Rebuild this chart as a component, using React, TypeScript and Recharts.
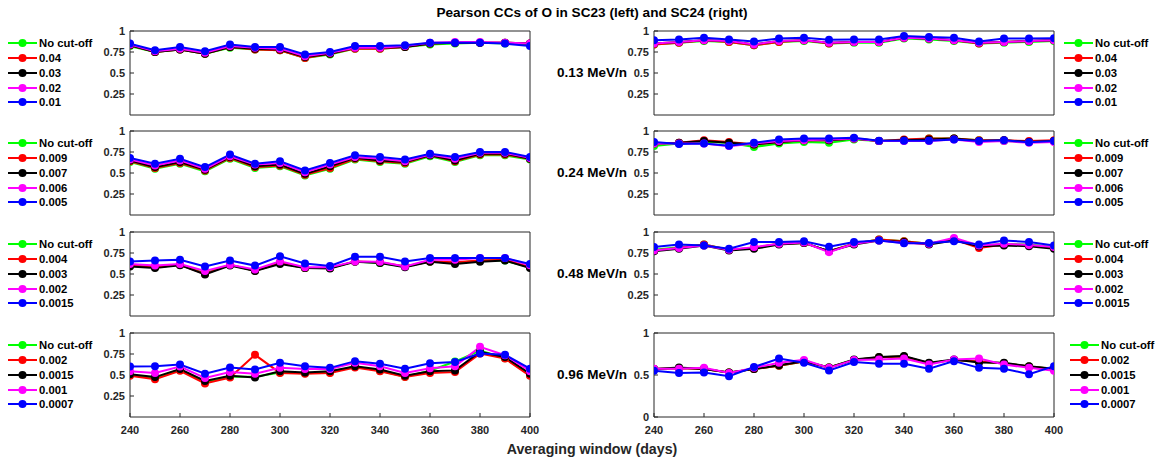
import React from 'react';
import { LineChart, Line, XAxis, YAxis, Legend } from 'recharts';

// ---------- categories / ticks ----------
const WINDOWS = [240, 250, 260, 270, 280, 290, 300, 310, 320, 330, 340, 350, 360, 370, 380, 390, 400];
const X_TICKS = [240, 260, 280, 300, 320, 340, 360, 380, 400];
const Y_TICKS = [0.25, 0.5, 0.75, 1];
const Y_TICKS_LAST_RIGHT = [0, 0.5, 1];

const TITLE = 'Pearson CCs of O in SC23 (left) and SC24 (right)';
const X_LABEL = 'Averaging window (days)';
const ENERGY_LABELS = ['0.13 MeV/n', '0.24 MeV/n', '0.48 MeV/n', '0.96 MeV/n'];

const CUTS_013 = ['No cut-off', '0.04', '0.03', '0.02', '0.01'];
const CUTS_024 = ['No cut-off', '0.009', '0.007', '0.006', '0.005'];
const CUTS_048 = ['No cut-off', '0.004', '0.003', '0.002', '0.0015'];
const CUTS_096 = ['No cut-off', '0.002', '0.0015', '0.001', '0.0007'];

const COLORS = ['#00ff00', '#ff0000', '#000000', '#ff00ff', '#0000ff'];

// ---------- 0.13 MeV/n ----------
const SC23_013_NONE = [0.82, 0.75, 0.78, 0.73, 0.80, 0.78, 0.77, 0.68, 0.72, 0.79, 0.79, 0.81, 0.84, 0.85, 0.86, 0.85, 0.84];
const SC23_013_C1 = [0.83, 0.75, 0.78, 0.73, 0.81, 0.78, 0.77, 0.68, 0.73, 0.79, 0.79, 0.81, 0.85, 0.86, 0.86, 0.86, 0.85];
const SC23_013_C2 = [0.83, 0.75, 0.78, 0.73, 0.81, 0.79, 0.78, 0.69, 0.73, 0.80, 0.80, 0.81, 0.85, 0.86, 0.86, 0.86, 0.85];
const SC23_013_C3 = [0.84, 0.76, 0.79, 0.74, 0.82, 0.80, 0.79, 0.70, 0.74, 0.80, 0.80, 0.82, 0.86, 0.87, 0.87, 0.86, 0.85];
const SC23_013_C4 = [0.85, 0.77, 0.81, 0.76, 0.84, 0.81, 0.81, 0.72, 0.75, 0.82, 0.82, 0.83, 0.86, 0.86, 0.86, 0.85, 0.82];

const SC24_013_NONE = [0.84, 0.86, 0.88, 0.87, 0.83, 0.87, 0.88, 0.85, 0.86, 0.86, 0.91, 0.90, 0.88, 0.85, 0.86, 0.87, 0.88];
const SC24_013_C1 = [0.84, 0.86, 0.89, 0.87, 0.83, 0.87, 0.89, 0.85, 0.87, 0.87, 0.92, 0.91, 0.89, 0.85, 0.87, 0.88, 0.89];
const SC24_013_C2 = [0.85, 0.87, 0.89, 0.88, 0.84, 0.88, 0.89, 0.86, 0.87, 0.87, 0.92, 0.91, 0.89, 0.86, 0.87, 0.88, 0.89];
const SC24_013_C3 = [0.85, 0.87, 0.89, 0.88, 0.84, 0.88, 0.89, 0.86, 0.87, 0.87, 0.92, 0.91, 0.89, 0.86, 0.87, 0.88, 0.89];
const SC24_013_C4 = [0.89, 0.90, 0.92, 0.90, 0.875, 0.91, 0.92, 0.895, 0.90, 0.90, 0.94, 0.93, 0.92, 0.875, 0.91, 0.91, 0.915];

// ---------- 0.24 MeV/n ----------
const SC23_024_NONE = [0.63, 0.55, 0.61, 0.52, 0.67, 0.56, 0.58, 0.47, 0.55, 0.66, 0.63, 0.61, 0.70, 0.63, 0.71, 0.71, 0.66];
const SC23_024_C1 = [0.64, 0.56, 0.62, 0.53, 0.68, 0.57, 0.59, 0.48, 0.56, 0.67, 0.64, 0.62, 0.71, 0.64, 0.72, 0.72, 0.67];
const SC23_024_C2 = [0.65, 0.57, 0.63, 0.54, 0.69, 0.58, 0.60, 0.49, 0.58, 0.68, 0.65, 0.63, 0.71, 0.65, 0.73, 0.73, 0.67];
const SC23_024_C3 = [0.66, 0.59, 0.65, 0.55, 0.70, 0.60, 0.62, 0.51, 0.60, 0.69, 0.67, 0.64, 0.72, 0.67, 0.74, 0.74, 0.68];
const SC23_024_C4 = [0.68, 0.61, 0.67, 0.57, 0.72, 0.61, 0.64, 0.53, 0.62, 0.71, 0.69, 0.66, 0.73, 0.69, 0.75, 0.75, 0.69];

const SC24_024_NONE = [0.82, 0.85, 0.87, 0.86, 0.81, 0.85, 0.87, 0.86, 0.90, 0.88, 0.89, 0.91, 0.91, 0.89, 0.88, 0.87, 0.88];
const SC24_024_C1 = [0.85, 0.86, 0.89, 0.87, 0.84, 0.87, 0.89, 0.89, 0.91, 0.88, 0.90, 0.91, 0.91, 0.89, 0.89, 0.88, 0.89];
const SC24_024_C2 = [0.85, 0.86, 0.88, 0.86, 0.84, 0.87, 0.89, 0.89, 0.91, 0.88, 0.89, 0.90, 0.91, 0.88, 0.89, 0.87, 0.88];
const SC24_024_C3 = [0.85, 0.85, 0.85, 0.82, 0.85, 0.88, 0.89, 0.90, 0.91, 0.88, 0.88, 0.88, 0.90, 0.87, 0.88, 0.86, 0.87];
const SC24_024_C4 = [0.87, 0.845, 0.85, 0.825, 0.86, 0.90, 0.91, 0.91, 0.92, 0.885, 0.885, 0.885, 0.90, 0.88, 0.89, 0.865, 0.88];

// ---------- 0.48 MeV/n ----------
const SC23_048_NONE = [0.60, 0.58, 0.61, 0.51, 0.61, 0.54, 0.63, 0.57, 0.57, 0.65, 0.63, 0.59, 0.65, 0.63, 0.66, 0.66, 0.58];
const SC23_048_C1 = [0.60, 0.58, 0.61, 0.50, 0.61, 0.54, 0.63, 0.57, 0.57, 0.65, 0.64, 0.59, 0.65, 0.64, 0.66, 0.67, 0.58];
const SC23_048_C2 = [0.59, 0.57, 0.605, 0.495, 0.60, 0.535, 0.62, 0.57, 0.565, 0.645, 0.63, 0.58, 0.645, 0.62, 0.645, 0.66, 0.57];
const SC23_048_C3 = [0.62, 0.60, 0.62, 0.535, 0.61, 0.555, 0.65, 0.58, 0.58, 0.65, 0.645, 0.59, 0.67, 0.67, 0.69, 0.69, 0.605];
const SC23_048_C4 = [0.65, 0.66, 0.67, 0.59, 0.66, 0.60, 0.71, 0.625, 0.595, 0.705, 0.705, 0.65, 0.69, 0.69, 0.69, 0.69, 0.62];

const SC24_048_NONE = [0.79, 0.82, 0.85, 0.79, 0.81, 0.86, 0.87, 0.77, 0.86, 0.91, 0.89, 0.86, 0.91, 0.83, 0.86, 0.85, 0.82];
const SC24_048_C1 = [0.78, 0.81, 0.85, 0.79, 0.81, 0.86, 0.87, 0.77, 0.86, 0.91, 0.89, 0.86, 0.91, 0.81, 0.85, 0.84, 0.81];
const SC24_048_C2 = [0.77, 0.80, 0.84, 0.78, 0.80, 0.85, 0.87, 0.77, 0.85, 0.90, 0.88, 0.85, 0.90, 0.83, 0.84, 0.83, 0.80];
const SC24_048_C3 = [0.78, 0.81, 0.84, 0.79, 0.82, 0.86, 0.875, 0.76, 0.86, 0.90, 0.87, 0.86, 0.93, 0.84, 0.86, 0.845, 0.82];
const SC24_048_C4 = [0.82, 0.85, 0.84, 0.80, 0.88, 0.88, 0.89, 0.825, 0.88, 0.90, 0.865, 0.87, 0.89, 0.85, 0.90, 0.88, 0.84];

// ---------- 0.96 MeV/n ----------
const SC23_096_NONE = [0.50, 0.46, 0.56, 0.41, 0.48, 0.48, 0.53, 0.52, 0.53, 0.60, 0.55, 0.48, 0.55, 0.66, 0.79, 0.70, 0.50];
const SC23_096_C1 = [0.49, 0.45, 0.55, 0.40, 0.47, 0.74, 0.525, 0.515, 0.525, 0.59, 0.545, 0.475, 0.525, 0.535, 0.755, 0.695, 0.49];
const SC23_096_C2 = [0.51, 0.475, 0.57, 0.43, 0.49, 0.47, 0.545, 0.53, 0.545, 0.605, 0.565, 0.49, 0.545, 0.555, 0.775, 0.715, 0.515];
const SC23_096_C3 = [0.545, 0.525, 0.60, 0.465, 0.535, 0.515, 0.585, 0.57, 0.57, 0.645, 0.605, 0.525, 0.58, 0.605, 0.835, 0.735, 0.545];
const SC23_096_C4 = [0.60, 0.605, 0.625, 0.515, 0.59, 0.565, 0.645, 0.605, 0.585, 0.665, 0.635, 0.575, 0.64, 0.655, 0.755, 0.74, 0.575];

const SC24_096_NONE = [0.57, 0.58, 0.57, 0.53, 0.57, 0.61, 0.66, 0.59, 0.68, 0.71, 0.72, 0.64, 0.68, 0.66, 0.64, 0.60, 0.57];
const SC24_096_C1 = [0.57, 0.58, 0.57, 0.53, 0.57, 0.61, 0.66, 0.59, 0.68, 0.71, 0.72, 0.64, 0.68, 0.66, 0.64, 0.60, 0.57];
const SC24_096_C2 = [0.57, 0.59, 0.57, 0.53, 0.57, 0.615, 0.665, 0.59, 0.685, 0.715, 0.725, 0.645, 0.685, 0.65, 0.645, 0.605, 0.575];
const SC24_096_C3 = [0.575, 0.575, 0.585, 0.525, 0.585, 0.645, 0.68, 0.585, 0.68, 0.685, 0.695, 0.625, 0.685, 0.695, 0.625, 0.585, 0.55];
const SC24_096_C4 = [0.55, 0.525, 0.53, 0.485, 0.595, 0.695, 0.645, 0.555, 0.655, 0.635, 0.635, 0.575, 0.665, 0.585, 0.575, 0.51, 0.605];

// ---------- layout ----------
const FONT = '"Liberation Sans", Arial, Helvetica, sans-serif';
const AXIS = '#262626';
const LEFT_PLOT_X = 130;
const RIGHT_PLOT_X = 654;
const PLOT_W = 400;
const PLOT_H = 84;
const ROW_TOPS = [31, 131, 232, 333];
const PAD_L = 40;
const PAD_T = 6;
const PAD_R = 16;
const CENTER_X = 592;

function LegendContent(props: any) {
  const payload = props.payload || [];
  return (
    <div style={{ fontFamily: FONT, fontWeight: 700, fontSize: 11.3, color: '#000' }}>
      {payload.map((p: any, i: number) => (
        <div key={i} style={{ display: 'flex', alignItems: 'center', height: 14.7, whiteSpace: 'nowrap' }}>
          <svg width={31} height={10} style={{ display: 'block', flex: 'none' }}>
            <line x1={0} y1={5} x2={29} y2={5} stroke={p.color} strokeWidth={2} />
            <circle cx={14.5} cy={5} r={4} fill={p.color} />
          </svg>
          <span>{p.value}</span>
        </div>
      ))}
    </div>
  );
}

type PanelProps = {
  x: number;
  y: number;
  series: number[][];
  names: string[];
  yTicks: number[];
  showX: boolean;
  legendX: number;
};

function Panel({ x, y, series, names, yTicks, showX, legendX }: PanelProps) {
  const data = WINDOWS.map((w, i) => {
    const row: any = { w };
    series.forEach((s, k) => {
      row['s' + k] = s[i];
    });
    return row;
  });
  const bottomH = showX ? 26 : 4;
  const W = PAD_L + PLOT_W + PAD_R;
  const H = PAD_T + PLOT_H + bottomH;
  const chartLeft = x - PAD_L;
  const tickStyle = { fill: AXIS, fontSize: 11, fontWeight: 700, fontFamily: FONT };
  return (
    <div style={{ position: 'absolute', left: chartLeft, top: y - PAD_T }}>
      <LineChart width={W} height={H} data={data} margin={{ top: 0, right: 0, bottom: 0, left: 0 }}>
        <XAxis
          xAxisId="b"
          dataKey="w"
          type="number"
          domain={[240, 400]}
          ticks={X_TICKS}
          interval={0}
          orientation="bottom"
          height={bottomH}
          tickSize={-4}
          tickMargin={13}
          axisLine={{ stroke: AXIS }}
          tickLine={{ stroke: AXIS }}
          tick={showX ? tickStyle : false}
          allowDataOverflow
        />
        <XAxis
          xAxisId="t"
          dataKey="w"
          type="number"
          domain={[240, 400]}
          ticks={X_TICKS}
          interval={0}
          orientation="top"
          height={PAD_T}
          tickSize={-4}
          axisLine={{ stroke: AXIS }}
          tickLine={{ stroke: AXIS }}
          tick={false}
          allowDataOverflow
        />
        <YAxis
          yAxisId="l"
          type="number"
          domain={[0, 1]}
          ticks={yTicks}
          interval={0}
          width={PAD_L}
          tickSize={-4}
          tickMargin={9}
          axisLine={{ stroke: AXIS }}
          tickLine={{ stroke: AXIS }}
          tick={tickStyle}
          allowDataOverflow
        />
        <YAxis
          yAxisId="r"
          orientation="right"
          type="number"
          domain={[0, 1]}
          ticks={yTicks}
          interval={0}
          width={PAD_R}
          tickSize={-4}
          axisLine={{ stroke: AXIS }}
          tickLine={{ stroke: AXIS }}
          tick={false}
          allowDataOverflow
        />
        <Legend
          layout="vertical"
          align="center"
          verticalAlign="middle"
          itemSorter="dataKey"
          content={<LegendContent />}
          wrapperStyle={{ left: legendX - chartLeft, top: PAD_T + 12.5 - 7.35, width: 90, height: 'auto' }}
        />
        {series.map((s, k) => (
          <Line
            key={k}
            xAxisId="b"
            yAxisId="l"
            type="linear"
            dataKey={'s' + k}
            name={names[k]}
            stroke={COLORS[k]}
            strokeWidth={2}
            dot={{ r: 4, fill: COLORS[k], stroke: COLORS[k], strokeWidth: 0 }}
            activeDot={false}
            isAnimationActive={false}
          />
        ))}
      </LineChart>
    </div>
  );
}

const ROWS = [
  { names: CUTS_013, left: [SC23_013_NONE, SC23_013_C1, SC23_013_C2, SC23_013_C3, SC23_013_C4], right: [SC24_013_NONE, SC24_013_C1, SC24_013_C2, SC24_013_C3, SC24_013_C4] },
  { names: CUTS_024, left: [SC23_024_NONE, SC23_024_C1, SC23_024_C2, SC23_024_C3, SC23_024_C4], right: [SC24_024_NONE, SC24_024_C1, SC24_024_C2, SC24_024_C3, SC24_024_C4] },
  { names: CUTS_048, left: [SC23_048_NONE, SC23_048_C1, SC23_048_C2, SC23_048_C3, SC23_048_C4], right: [SC24_048_NONE, SC24_048_C1, SC24_048_C2, SC24_048_C3, SC24_048_C4] },
  { names: CUTS_096, left: [SC23_096_NONE, SC23_096_C1, SC23_096_C2, SC23_096_C3, SC23_096_C4], right: [SC24_096_NONE, SC24_096_C1, SC24_096_C2, SC24_096_C3, SC24_096_C4] },
];

export default function App() {
  return (
    <div style={{ position: 'absolute', left: 0, top: 0, width: 1158, height: 461, background: '#fff', overflow: 'hidden', fontFamily: FONT }}>
      <div style={{ position: 'absolute', left: CENTER_X - 250, width: 500, top: 4, textAlign: 'center', fontWeight: 700, fontSize: 13.6, color: '#000', lineHeight: '17px' }}>
        {TITLE}
      </div>
      {ROWS.map((r, i) => {
        const last = i === ROWS.length - 1;
        return (
          <React.Fragment key={i}>
            <Panel x={LEFT_PLOT_X} y={ROW_TOPS[i]} series={r.left} names={r.names} yTicks={Y_TICKS} showX={last} legendX={8} />
            <Panel x={RIGHT_PLOT_X} y={ROW_TOPS[i]} series={r.right} names={r.names} yTicks={last ? Y_TICKS_LAST_RIGHT : Y_TICKS} showX={last} legendX={last ? 1070 : 1064} />
            <div style={{ position: 'absolute', left: CENTER_X - 70, width: 140, top: ROW_TOPS[i] + PLOT_H / 2 - 9, textAlign: 'center', fontWeight: 700, fontSize: 13.5, lineHeight: '18px', color: '#000' }}>
              {ENERGY_LABELS[i]}
            </div>
          </React.Fragment>
        );
      })}
      <div style={{ position: 'absolute', left: CENTER_X - 200, width: 400, top: 440, textAlign: 'center', fontWeight: 700, fontSize: 14.2, lineHeight: '18px', color: '#262626' }}>
        {X_LABEL}
      </div>
    </div>
  );
}
